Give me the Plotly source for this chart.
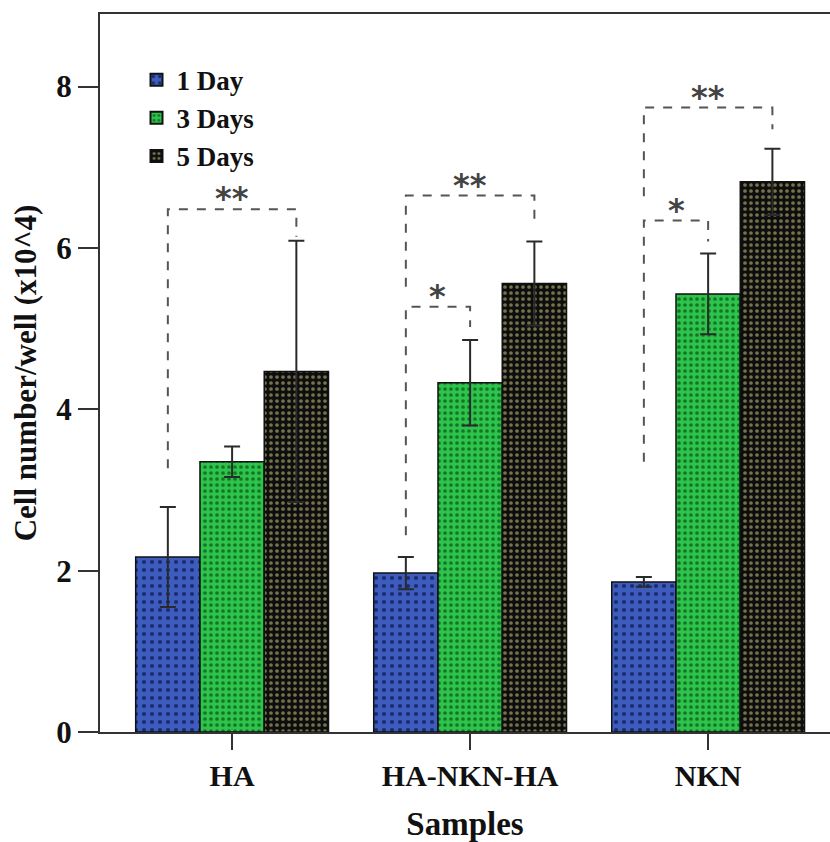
import plotly.graph_objects as go

# ---------------- data ----------------
samples = ["HA", "HA-NKN-HA", "NKN"]
series_names = ["1 Day", "3 Days", "5 Days"]
day1 = [2.17, 1.97, 1.86]
day1_err = [0.62, 0.20, 0.06]
day3 = [3.35, 4.33, 5.43]
day3_err = [0.19, 0.53, 0.50]
day5 = [4.47, 5.56, 6.82]
day5_err = [1.62, 0.52, 0.41]

# significance brackets: group index, from-series, to-series, top, left-leg bottom, right-leg bottom, label
br_group = [0, 1, 1, 2, 2]
br_from = [0, 0, 0, 0, 0]
br_to = [2, 2, 1, 2, 1]
br_top = [6.48, 6.65, 5.27, 7.74, 6.34]
br_left_bottom = [3.27, 5.52, 2.44, 6.64, 3.35]
br_right_bottom = [6.14, 6.35, 5.02, 7.47, 6.08]
br_label = ["**", "**", "*", "**", "*"]

y_ticks = [0, 2, 4, 6, 8]

# ---------------- styles ----------------
bg_colors = ["#3d5cbd", "#2ec44b", "#0e0e0e"]
dot_colors = ["#1b2c6e", "#137528", "#77744c"]
dot_sizes = [8, 6, 6]
dot_solid = [0.22, 0.3, 0.3]
SERIF = "Liberation Serif, Times New Roman, serif"

bargap = 0.19
bar_w = (1 - bargap) / 3
offsets = [-bar_w, 0.0, bar_w]

fig = go.Figure()
values = [day1, day3, day5]
errors = [day1_err, day3_err, day5_err]
for i in range(3):
    fig.add_trace(go.Bar(
        x=samples, y=values[i], name=f"<b>{series_names[i]}</b>",
        marker=dict(
            color=bg_colors[i],
            line=dict(color="#111111", width=1.5),
            pattern=dict(shape=".", fgcolor=dot_colors[i], bgcolor=bg_colors[i],
                         size=dot_sizes[i], solidity=dot_solid[i], fillmode="replace"),
        ),
        error_y=dict(type="data", array=errors[i], visible=True,
                     color="#2a2a2a", thickness=2, width=8),
    ))

# brackets
for g, a, b, top, lb, rb, lab in zip(br_group, br_from, br_to, br_top,
                                    br_left_bottom, br_right_bottom, br_label):
    xl = g + offsets[a]
    xr = g + offsets[b]
    path = f"M {xl},{lb} L {xl},{top} L {xr},{top} L {xr},{rb}"
    fig.add_shape(type="path", path=path, xref="x", yref="y",
                  line=dict(color="#555555", width=2, dash="dash"))
    fig.add_annotation(x=(xl + xr) / 2, y=top, xref="x", yref="y", text=f"<b>{lab}</b>",
                       showarrow=False, yanchor="bottom", yshift=-10,
                       font=dict(family="DejaVu Sans, sans-serif",
                                 size=32, color="#444444"))

fig.update_layout(
    width=830, height=842,
    margin=dict(l=100, r=0, t=14, b=110),
    paper_bgcolor="white", plot_bgcolor="white",
    barmode="group", bargap=bargap, bargroupgap=0,
    font=dict(family=SERIF, color="#111111"),
    showlegend=True,
    legend=dict(x=0.05, y=0.942, xanchor="left", yanchor="top",
                bgcolor="rgba(0,0,0,0)", borderwidth=0,
                font=dict(family=SERIF, size=27, color="#111111"),
                tracegroupgap=0, itemsizing="constant"),
)
fig.update_xaxes(
    range=[-0.555, 2.512], showline=True, linecolor="#333333", linewidth=2,
    mirror=True, ticks="outside", ticklen=16, tickwidth=2, tickcolor="#333333",
    showgrid=False, zeroline=False, automargin=False,
    tickfont=dict(family=SERIF, size=30, color="#111111"),
    title=dict(text="<b>Samples</b>", font=dict(family=SERIF, size=33, color="#111111"), standoff=22),
    tickprefix="<b>", ticksuffix="</b>",
)
fig.update_yaxes(
    range=[0, 8.9], tickvals=y_ticks, ticktext=[f"<b>{v}</b>" for v in y_ticks],
    showline=True, linecolor="#333333", linewidth=2, mirror=False,
    ticks="outside", ticklen=20, tickwidth=2, tickcolor="#333333",
    showgrid=False, zeroline=False, automargin=False,
    tickfont=dict(family=SERIF, size=31, color="#111111"),
    title=dict(text="<b>Cell number/well (x10^4)</b>",
               font=dict(family=SERIF, size=31, color="#111111"), standoff=10),
)

fig.write_html("out.html", config={"displayModeBar": False},
               post_script="document.body.style.margin='0';document.body.style.overflow='hidden';")
